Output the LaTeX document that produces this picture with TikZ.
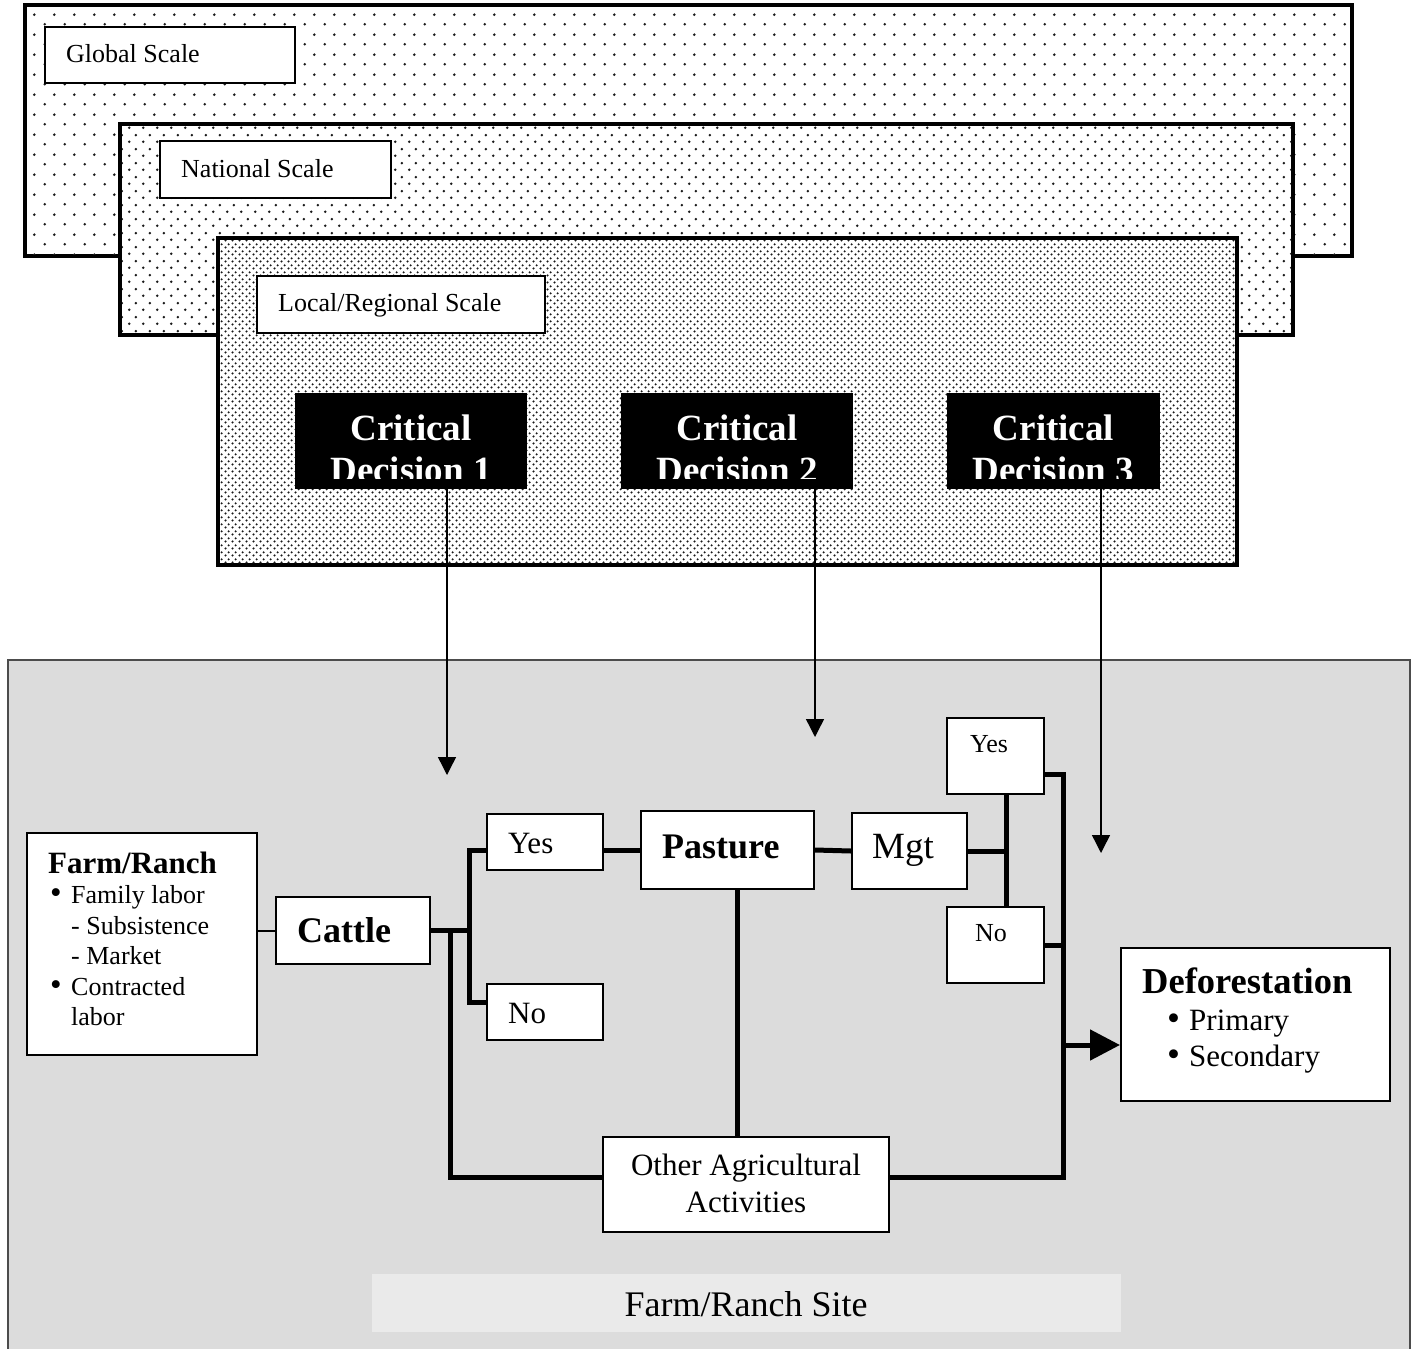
\documentclass[tikz,border=0pt]{standalone}
\usepackage{fontspec}
\setmainfont{Liberation Serif}
\usetikzlibrary{arrows.meta,patterns.meta,calc}
\newcommand\fsz[1]{\fontsize{#1}{#1}\selectfont}
\definecolor{sitegray}{HTML}{DCDCDC}
\definecolor{bandgray}{HTML}{EAEAEA}
\definecolor{dotcol}{HTML}{1A1A1A}
\tikzdeclarepattern{name=gdots, type=uncolored,
  bounding box={(0pt,0pt) and (20pt,20pt)}, tile size={(20pt,20pt)},
  code={\fill (5pt,5pt) circle (1.5pt); \fill (15pt,15pt) circle (1.5pt);}}
\tikzdeclarepattern{name=ndots, type=uncolored,
  bounding box={(0pt,0pt) and (14pt,14pt)}, tile size={(14pt,14pt)},
  code={\fill (3.5pt,3.5pt) circle (1.45pt); \fill (10.5pt,10.5pt) circle (1.45pt);}}
\tikzdeclarepattern{name=ldots, type=uncolored,
  bounding box={(0pt,0pt) and (6.6pt,6.6pt)}, tile size={(6.6pt,6.6pt)},
  code={\fill (1.65pt,1.65pt) circle (1.2pt); \fill (4.95pt,4.95pt) circle (1.2pt);}}
\tikzset{
  scalebox/.style={draw, line width=4pt, fill=white},
  wbox/.style={draw, line width=2pt, fill=white, inner sep=0pt},
  cdbox/.style={fill=black, inner sep=0pt, minimum width=#1, minimum height=96pt},
  txt/.style={inner sep=0pt, anchor=base west},
  ctxt/.style={inner sep=0pt, anchor=base},
  cdtxt/.style={inner sep=0pt, anchor=base, text=white, font=\fsz{37}\bfseries},
  conn/.style={line width=5pt},
  thinconn/.style={line width=2pt},
  cdarrow/.style={line width=1.4pt, -{Triangle[length=18pt,width=18pt]}},
  bigarrow/.style={line width=5pt, -{Triangle[length=30pt,width=30pt]}},
}
\begin{document}
\begin{tikzpicture}[x=1pt, y=-1pt]
\useasboundingbox (0,0) rectangle (1416,1349);
\fill[white] (0,0) rectangle (1416,1349);

% ---------- scale boxes ----------
\draw[scalebox] (25,5) rectangle (1352,256);
\fill[pattern=gdots, pattern color=dotcol] (27,7) rectangle (1350,254);
\node[wbox, minimum width=250pt, minimum height=56pt] (glabel) at (170,55) {};
\node[txt, font=\fsz{26}] (gtext) at (66,62) {Global Scale};

\draw[scalebox] (120,124) rectangle (1293,335);
\fill[pattern=ndots, pattern color=dotcol] (122,126) rectangle (1291,333);
\node[wbox, minimum width=231pt, minimum height=57pt] (nlabel) at (275.5,169.5) {};
\node[txt, font=\fsz{26}] (ntext) at (181,177) {National Scale};

\draw[scalebox] (218,238) rectangle (1237,565);
\fill[pattern=ldots, pattern color=dotcol] (220,240) rectangle (1235,563);
\node[wbox, minimum width=288pt, minimum height=57pt] (llabel) at (401,304.5) {};
\node[txt, font=\fsz{26}] (ltext) at (278,311) {Local/Regional Scale};

% ---------- critical decisions ----------
\node[cdbox=232pt] (cd1) at (411,441) {};
\node[cdbox=232pt] (cd2) at (737,441) {};
\node[cdbox=213pt] (cd3) at (1053.5,441) {};
\begin{scope}
  \clip (cd1.north west) rectangle ([yshift=10.5pt]cd1.south east);
  \node[cdtxt] (cd1a) at (411,440) {Critical};
  \node[cdtxt] (cd1b) at (411,482) {Decision 1};
\end{scope}
\begin{scope}
  \clip (cd2.north west) rectangle ([yshift=10.5pt]cd2.south east);
  \node[cdtxt] (cd2a) at (737,440) {Critical};
  \node[cdtxt] (cd2b) at (737,482) {Decision 2};
\end{scope}
\begin{scope}
  \clip (cd3.north west) rectangle ([yshift=10.5pt]cd3.south east);
  \node[cdtxt] (cd3a) at (1053.5,440) {Critical};
  \node[cdtxt] (cd3b) at (1053.5,482) {Decision 3};
\end{scope}

% ---------- farm/ranch site ----------
\draw[fill=sitegray, draw=black!70, line width=1.5pt] (8,660) rectangle (1410,1360);
\node[fill=bandgray, inner sep=0pt, minimum width=749pt, minimum height=58pt] (band) at (746.5,1303) {};
\node[ctxt, font=\fsz{36}] (bandtext) at (746,1316) {Farm/Ranch Site};

% arrows from critical decisions
\coordinate (a1) at (447,775);
\coordinate (a2) at (815,737);
\coordinate (a3) at (1101,853);
\draw[cdarrow] (cd1.south -| a1) -- (a1);
\draw[cdarrow] (cd2.south -| a2) -- (a2);
\draw[cdarrow] (cd3.south -| a3) -- (a3);

% ---------- boxes ----------
\node[wbox, minimum width=230pt, minimum height=222pt] (farm) at (142,944) {};
\node[wbox, minimum width=154pt, minimum height=67pt] (cattle) at (353,930.5) {};
\node[wbox, minimum width=116pt, minimum height=56pt] (yes1) at (545,842) {};
\node[wbox, minimum width=116pt, minimum height=56pt] (no1) at (545,1012) {};
\node[wbox, minimum width=173pt, minimum height=78pt] (pasture) at (727.5,850) {};
\node[wbox, minimum width=115pt, minimum height=76pt] (mgt) at (909.5,851) {};
\node[wbox, minimum width=97pt, minimum height=76pt] (yes2) at (995.5,756) {};
\node[wbox, minimum width=97pt, minimum height=76pt] (no2) at (995.5,945) {};
\node[wbox, minimum width=269pt, minimum height=153pt] (deforest) at (1255.5,1024.5) {};
\node[wbox, minimum width=286pt, minimum height=95pt] (other) at (746,1184.5) {};

% texts
\node[txt, font=\fsz{31}\bfseries] (fr0) at (48,873) {Farm/Ranch};
\node[txt, font=\fsz{33}] (fr1b) at (50,903) {•};
\node[txt, font=\fsz{26}] (fr1) at (71,903) {Family labor};
\node[txt, font=\fsz{26}] (fr2) at (71,934) {- Subsistence};
\node[txt, font=\fsz{26}] (fr3) at (71,964) {- Market};
\node[txt, font=\fsz{33}] (fr4b) at (50,995) {•};
\node[txt, font=\fsz{26}] (fr4) at (71,995) {Contracted};
\node[txt, font=\fsz{26}] (fr5) at (71,1025) {labor};

\node[txt, font=\fsz{36}\bfseries] (cattletext) at (297,942) {Cattle};
\node[txt, font=\fsz{31}] (yes1text) at (508,853) {Yes};
\node[txt, font=\fsz{31}] (no1text) at (508,1023) {No};
\node[txt, font=\fsz{36}\bfseries] (pasturetext) at (662,858) {Pasture};
\node[txt, font=\fsz{37}] (mgttext) at (872,858) {Mgt};
\node[ctxt, font=\fsz{26}] (yes2text) at (989,752) {Yes};
\node[ctxt, font=\fsz{26}] (no2text) at (991,941) {No};

\node[txt, font=\fsz{36.5}\bfseries] (deftext) at (1142,993) {Deforestation};
\node[txt, font=\fsz{37}] (def1b) at (1167,1030) {•};
\node[txt, font=\fsz{31}] (def1) at (1189,1030) {Primary};
\node[txt, font=\fsz{37}] (def2b) at (1167,1066) {•};
\node[txt, font=\fsz{31}] (def2) at (1189,1066) {Secondary};

\node[ctxt, font=\fsz{31}] (oth1) at (746,1175) {Other Agricultural};
\node[ctxt, font=\fsz{31}] (oth2) at (746,1212) {Activities};

% ---------- connectors ----------
\draw[thinconn] (farm.east |- cattle.west) -- (cattle.west);
\coordinate (j1) at ($(cattle.east)+(38,0)$);
\coordinate (j2) at ($(cattle.east)+(19,0)$);
\coordinate (ow) at ($(other.west)+(0,-7)$);
\coordinate (oe) at ($(other.east)+(0,-7)$);
\coordinate (nw) at ($(no1.west)+(0,-10)$);
\draw[conn] (cattle.east) -- (j1);
\draw[conn] (yes1.west |- pasture.west) -| (j1) |- (nw);
\draw[conn] (j2) |- (ow);
\draw[conn] (yes1.east |- pasture.west) -- (pasture.west);
\draw[conn] ([xshift=9.5pt]pasture.south) -- ([xshift=9.5pt]pasture.south |- other.north);
\draw[conn] (pasture.east) -- (mgt.west);
\coordinate (j3) at ($(mgt.east)+(38,0)$);
\draw[conn] (mgt.east) -- (j3);
\draw[conn] (yes2.south -| j3) -- (no2.north -| j3);
\coordinate (ye) at ($(yes2.east)+(0,18)$);
\coordinate (bt) at ($(ye)+(18,0)$);
\draw[conn] (ye) -- (bt) -- (bt |- oe) -- (oe);
\draw[conn] (no2.east) -- (no2.east -| bt);
\coordinate (dw) at ($(deforest.west)+(0,20.5)$);
\draw[bigarrow] (bt |- dw) -- (dw);
\end{tikzpicture}
\end{document}
